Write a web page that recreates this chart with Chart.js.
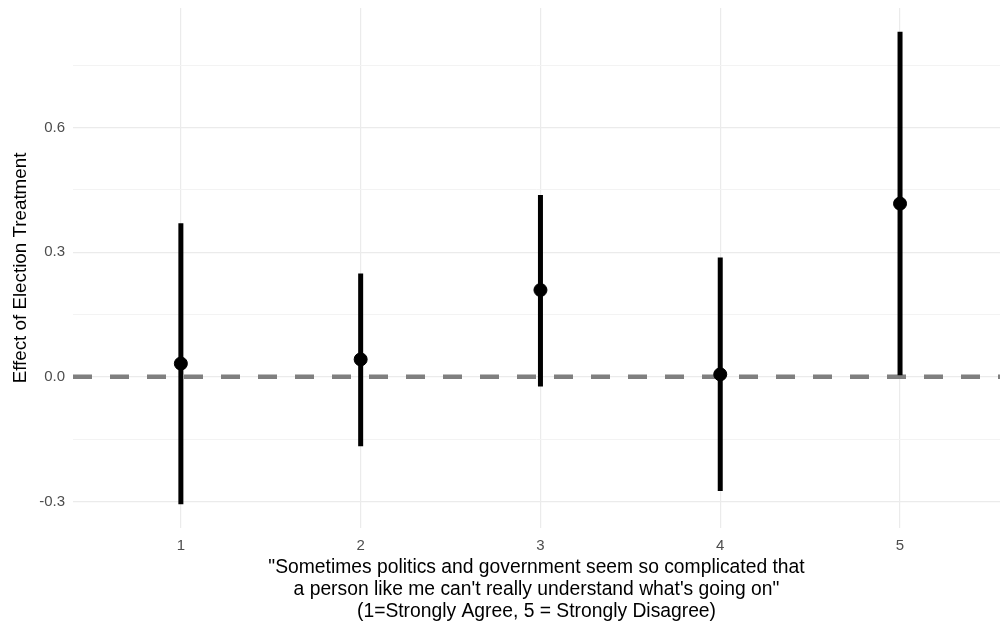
<!DOCTYPE html>
<html>
<head>
<meta charset="utf-8">
<title>Effect of Election Treatment</title>
<script src="https://cdn.jsdelivr.net/npm/chart.js@4/dist/chart.umd.min.js"></script>
<style>
    html, body { margin: 0; padding: 0; background: #ffffff; overflow: hidden; }
    #wrap { width: 1000px; height: 628px; position: relative; }
</style>
</head>
<body>
<div id="wrap"><canvas id="chart"></canvas></div>
<script>
// Data
const categories = [1, 2, 3, 4, 5];
const estimates = [0.032, 0.042, 0.209, 0.006, 0.417];
const lower = [-0.307, -0.167, -0.023, -0.275, 0.004];
const upper = [0.370, 0.249, 0.438, 0.287, 0.831];
const yTicks = [-0.3, 0.0, 0.3, 0.6];
const yMinorTicks = [-0.15, 0.15, 0.45, 0.75];

const xTitle = [
    '"Sometimes politics and government seem so complicated that',
    'a person like me can\'t really understand what\'s going on"',
    '(1=Strongly Agree, 5 = Strongly Disagree)'
];
const yTitle = 'Effect of Election Treatment';

// ggplot-like expansion: 5% on continuous y, 0.6 on discrete x
const lo = Math.min(...lower), hi = Math.max(...upper);
const pad = (hi - lo) * 0.05;
const yMin = lo - pad, yMax = hi + pad;

// error bar segments, separated by gaps
const segments = [];
categories.forEach((c, i) => {
    segments.push({ x: c, y: lower[i] });
    segments.push({ x: c, y: upper[i] });
    segments.push({ x: c, y: null });
});

const allYTicks = yTicks.concat(yMinorTicks).sort((a, b) => a - b);
const isMajor = v => yTicks.some(t => Math.abs(t - v) < 1e-9);

const FONT = '"Liberation Sans", Arial, Helvetica, sans-serif';

new Chart(document.getElementById('chart'), {
    type: 'scatter',
    data: {
        datasets: [
            {
                // points on top
                type: 'scatter',
                data: categories.map((c, i) => ({ x: c, y: estimates[i] })),
                backgroundColor: '#000000',
                borderColor: '#000000',
                pointRadius: 6.5,
                pointHoverRadius: 6.5,
                order: 1
            },
            {
                type: 'line',
                data: segments,
                borderColor: '#000000',
                borderWidth: 5,
                borderCapStyle: 'butt',
                pointRadius: 0,
                spanGaps: false,
                fill: false,
                order: 2
            },
            {
                // reference line at zero
                type: 'line',
                data: [{ x: 0.4, y: 0 }, { x: 5.6, y: 0 }],
                borderColor: '#7f7f7f',
                borderWidth: 4.5,
                borderDash: [19, 18],
                borderCapStyle: 'butt',
                pointRadius: 0,
                fill: false,
                order: 3
            }
        ]
    },
    options: {
        responsive: true,
        maintainAspectRatio: false,
        animation: false,
        layout: {
            autoPadding: false,
            padding: { top: 8, right: 0, left: 0, bottom: 0 }
        },
        plugins: {
            legend: { display: false },
            tooltip: { enabled: false }
        },
        scales: {
            x: {
                type: 'linear',
                min: 0.4,
                max: 5.556,
                afterBuildTicks: scale => {
                    scale.ticks = categories.map(v => ({ value: v }));
                },
                afterFit: scale => {
                    scale.height = 100;
                    scale.paddingLeft = 0;
                    scale.paddingRight = 0;
                },
                border: { display: false },
                grid: { color: '#ebebeb', lineWidth: 1.2, drawTicks: false },
                ticks: {
                    color: '#4d4d4d',
                    font: { family: FONT, size: 15 },
                    padding: 9,
                    maxRotation: 0,
                    callback: v => String(v)
                },
                title: {
                    display: true,
                    text: xTitle,
                    color: '#000000',
                    font: { family: FONT, size: 19.3, lineHeight: 1.12 },
                    padding: { top: 0, bottom: 6 }
                }
            },
            y: {
                min: yMin,
                max: yMax,
                afterBuildTicks: scale => {
                    scale.ticks = allYTicks.map(v => ({ value: v }));
                },
                afterFit: scale => {
                    scale.width = 73;
                    scale.paddingTop = 0;
                    scale.paddingBottom = 0;
                },
                border: { display: false },
                grid: {
                    drawTicks: false,
                    color: ctx => isMajor(ctx.tick.value) ? '#ebebeb' : '#f3f3f3',
                    lineWidth: ctx => isMajor(ctx.tick.value) ? 1.2 : 1
                },
                ticks: {
                    color: '#4d4d4d',
                    font: { family: FONT, size: 15 },
                    padding: 8,
                    callback: v => isMajor(v) ? v.toFixed(1) : ''
                },
                title: {
                    display: true,
                    text: yTitle,
                    color: '#000000',
                    font: { family: FONT, size: 18.8 },
                    padding: { top: 10, bottom: 0 }
                }
            }
        }
    }
});
</script>
</body>
</html>
